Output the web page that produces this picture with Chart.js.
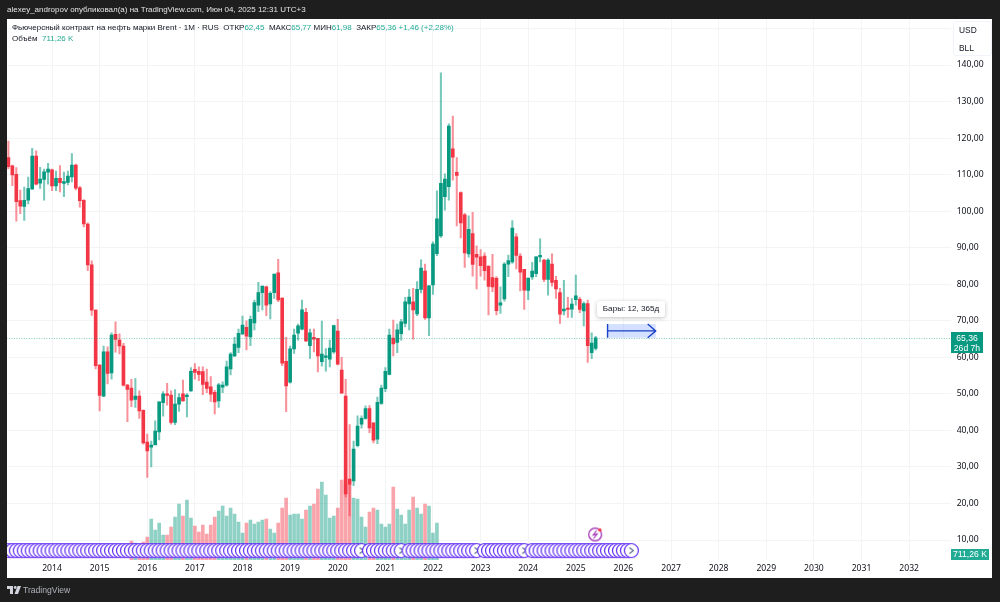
<!DOCTYPE html>
<html>
<head>
<meta charset="utf-8">
<script src="https://cdn.jsdelivr.net/npm/chart.js@4/dist/chart.umd.min.js"></script>
<style>
  html, body { margin: 0; padding: 0; background: #1e1e1e; overflow: hidden; }
  body { width: 1000px; height: 602px; position: relative; font-family: "Liberation Sans", sans-serif; }
  #panel { position: absolute; left: 7px; top: 19px; width: 985px; height: 559px; background: #fff; }
  #edge { position: absolute; left: 0; top: 0; width: 7px; height: 602px; background: #1e1e1e; }
  canvas { position: absolute; left: 0; top: 0; }
  .txt { position: absolute; white-space: nowrap; line-height: 12px; font-size: 8px; color: #131722; }
  #published { left: 7px; top: 4px; color: #e4e4e4; font-size: 8px; }
  #legend1 { left: 12px; top: 22px; }
  #legend2 { left: 12px; top: 33px; }
  .val { color: #22ab94; }
  #units { position: absolute; left: 953px; top: 21px; width: 37px; height: 33px; background: #fff; border: 1px solid #f0f3fa; border-radius: 3px; }
  #units span { position: absolute; left: 5px; font-size: 8.4px; line-height: 12px; color: #131722; }
  #tag { position: absolute; left: 951px; top: 332px; width: 32px; height: 21px; background: #089981; color: #fff; font-size: 8.6px; line-height: 10px; text-align: center; padding-top: 1px; box-sizing: border-box; }
  #volTag { position: absolute; left: 951px; top: 549px; width: 38px; height: 10.5px; background: #22ab94; color: #fff; font-size: 8.6px; line-height: 10.5px; text-align: center; }
  #bars { position: absolute; left: 597px; top: 301px; width: 68px; height: 16px; background: #fff; border-radius: 3px; box-shadow: 0 1px 4px rgba(0,0,0,.25); font-size: 8.1px; line-height: 16px; text-align: center; color: #131722; }
  #brand { position: absolute; left: 23px; top: 583px; font-size: 8.6px; line-height: 14px; color: #b2b5be; }
  #logo { position: absolute; left: 7px; top: 586px; }
</style>
</head>
<body>
<div id="panel"></div>
<canvas id="chart" width="1000" height="602"></canvas>
<div id="edge"></div>
<div class="txt" id="published">alexey_andropov опубликовал(а) на TradingView.com, Июн 04, 2025 12:31 UTC+3</div>
<div class="txt" id="legend1">Фьючерсный контракт на нефть марки Brent · 1М · RUS&nbsp; ОТКР<span class="val">62,45</span>&nbsp; МАКС<span class="val">65,77</span>&nbsp;МИН<span class="val">61,98</span>&nbsp; ЗАКР<span class="val">65,36</span> <span class="val">+1,46 (+2,28%)</span></div>
<div class="txt" id="legend2">Объём&nbsp; <span class="val">711,26 K</span></div>
<div id="units"><span style="top:2px">USD</span><span style="top:20px">BLL</span></div>
<div id="tag">65,36<br>26d 7h</div>
<div id="volTag">711,26 K</div>
<div id="bars">Бары: 12, 365д</div>
<svg id="logo" width="14" height="8" viewBox="0 0 14 8"><path d="M0 0h6v8H3V3H0z M7.5 8L10.5 0H14L11 8z" fill="#d1d4dc"/><circle cx="8.2" cy="1.5" r="1.4" fill="#d1d4dc"/></svg>
<div id="brand">TradingView</div>

<script>
// monthly candles, first one is Feb 2013, last one Jun 2025
const opens = [
  114.7,112.4,110.1,102.9,101.3,103.0,106.1,115.1,107.7,108.7,
  110.7,111.3,106.9,109.0,107.6,107.9,109.4,112.6,106.4,103.0,
  96.5,85.3,72.9,57.9,49.4,61.5,55.7,66.3,64.7,63.1,
  52.4,51.6,48.5,49.4,45.5,36.8,35.4,36.0,39.6,47.6,
  50.0,49.7,42.2,47.2,50.0,49.2,50.8,56.7,56.2,56.1,
  53.2,51.9,50.4,48.1,51.8,52.4,56.8,60.4,62.7,66.4,
  68.2,65.6,69.4,74.3,77.7,79.3,74.6,77.7,83.1,76.2,
  58.9,53.2,62.3,66.6,67.7,72.3,63.2,65.5,65.2,58.8,
  60.0,59.5,61.5,67.2,56.5,49.4,26.7,26.2,35.8,41.7,
  43.3,46.0,42.1,37.6,47.4,51.4,55.3,65.3,64.1,66.5,
  69.3,74.6,75.2,71.9,78.6,83.6,70.8,79.8,88.4,93.2,
  104.0,106.7,117.1,110.6,105.1,99.0,88.3,93.9,88.2,87.5,
  87.7,85.0,81.8,81.6,74.3,76.0,85.5,86.1,93.0,87.7,
  84.1,78.3,82.0,82.9,87.5,86.6,81.3,85.5,81.1,77.7,
  72.7,73.5,73.2,75.8,75.9,72.7,74.7,61.3,62.45
];
const closes = [
  112.2,109.9,102.6,101.4,103.0,106.2,115.1,107.4,108.8,110.8,
  111.5,106.9,109.0,107.8,108.1,109.6,112.6,106.3,102.9,96.5,
  85.3,72.9,57.7,49.6,61.5,55.6,66.1,64.9,63.1,52.4,
  51.2,48.3,49.4,45.3,36.6,34.4,36.0,39.8,47.8,50.0,
  49.6,42.2,47.2,49.0,48.1,49.7,56.2,55.9,55.3,52.6,
  51.5,49.9,47.8,52.5,52.4,57.4,60.9,63.6,66.6,68.8,
  65.8,70.4,75.0,77.7,79.5,74.3,77.5,82.8,75.7,58.4,
  52.2,62.3,66.1,68.6,73.0,64.5,66.7,65.0,60.4,60.9,
  60.4,62.5,68.7,58.1,50.2,22.6,25.2,34.9,41.2,43.3,
  46.0,40.7,37.3,47.7,51.6,56.2,66.1,63.7,67.5,69.7,
  75.2,76.5,73.0,78.6,84.4,70.8,79.6,91.0,97.9,107.6,
  108.8,123.3,114.8,109.8,96.8,88.6,95.0,85.4,87.4,85.1,
  83.7,79.4,79.3,72.8,74.9,85.5,86.5,95.4,87.9,83.3,
  78.4,81.7,83.6,87.5,87.9,81.3,86.6,80.5,78.7,71.8,
  73.2,73.1,74.6,76.8,73.1,74.7,63.2,63.9,65.36
];
const highs = [
  119.2,112.6,111.9,105.8,106.6,109.3,117.2,116.5,112.0,111.5,
  113.1,111.5,111.0,112.5,110.7,111.0,115.8,112.9,106.8,103.2,
  96.8,86.4,73.0,58.0,63.1,62.9,66.7,69.7,66.4,63.8,
  52.6,54.0,54.2,50.8,45.6,39.0,37.1,42.6,47.8,50.6,
  52.9,50.8,51.2,50.1,53.8,50.1,57.2,58.3,57.4,57.4,
  56.8,54.7,51.0,52.9,53.3,59.0,61.3,65.5,67.7,71.3,
  70.0,71.3,75.7,80.5,79.5,79.5,78.0,82.8,86.8,76.3,
  65.5,63.1,67.7,69.1,75.7,73.4,67.7,67.7,65.2,69.9,
  62.4,64.7,68.8,70.4,60.0,54.0,41.6,37.1,44.0,44.0,
  46.7,46.8,42.1,49.1,52.4,57.2,67.7,70.2,69.1,70.4,
  76.4,78.6,78.9,80.7,86.7,85.5,79.7,91.6,105.6,137.9,
  110.2,123.9,126.0,114.7,105.3,99.4,98.7,99.7,90.5,89.5,
  88.6,85.0,88.2,82.1,79.3,85.9,88.0,97.4,93.9,88.4,
  84.1,81.7,86.0,87.6,92.4,86.8,87.0,88.3,82.2,78.9,
  81.1,76.4,76.1,82.5,76.4,75.2,75.7,66.7,65.77
];
const lows = [
  111.6,107.0,97.3,99.3,97.5,102.0,105.9,107.2,106.2,103.0,
  107.4,105.6,105.6,105.3,104.0,107.2,108.0,105.8,101.1,95.7,
  83.7,71.5,56.8,45.3,49.2,52.7,54.0,61.4,60.9,52.1,
  42.4,46.5,46.3,43.3,36.2,27.1,30.0,37.4,37.4,43.9,
  46.9,41.7,41.6,45.2,48.0,43.7,50.7,54.0,53.6,49.8,
  50.3,47.9,44.5,46.3,50.3,52.1,55.2,60.2,61.3,66.2,
  62.0,63.2,67.5,72.5,73.0,71.4,70.5,76.1,75.2,57.7,
  45.1,52.9,61.1,64.7,67.5,64.3,59.7,61.5,56.0,57.6,
  56.2,57.4,61.1,57.9,50.2,21.8,16.6,24.9,35.5,40.6,
  43.1,39.4,36.6,36.4,47.1,50.6,55.2,60.4,61.3,64.7,
  68.3,67.5,65.0,71.4,77.6,70.4,65.9,77.2,87.8,92.8,
  100.3,103.0,108.5,96.0,92.7,84.6,87.4,82.2,78.7,82.2,
  81.1,71.6,78.0,71.6,72.0,75.4,82.1,85.7,84.2,78.2,
  73.1,75.8,81.3,82.1,86.1,80.7,77.0,79.5,76.1,69.3,
  71.6,70.9,70.9,74.3,72.2,68.6,58.6,59.6,61.98
];
// volume in thousands, only reported from Sep 2015 to Feb 2022
const noVolume = new Array(31).fill(null);
const volumes = noVolume.concat([
  190,170,150,180,230,410,300,370,250,250,
  330,430,560,440,600,420,340,280,350,260,
  350,430,490,540,440,520,460,380,270,370,
  400,360,380,400,410,310,270,370,520,620,
  450,460,460,410,500,540,560,710,780,650,
  420,440,520,800,760,750,620,610,430,330,
  480,520,500,360,330,360,730,510,450,360,
  500,630,520,460,560,540,270,370
]);

// month labels run on into the empty right part of the chart
const labels = [];
for (let y = 2013; y <= 2032; y++) {
  for (let m = 1; m <= 12; m++) {
    if (y === 2013 && m === 1) continue;
    if (y === 2032 && m === 12) continue;
    labels.push(y + '-' + String(m).padStart(2, '0'));
  }
}

const lastClose = 65.36;
const eventLevel = 7.1;
const eventGaps = [90, 100, 119, 131];
const eventArrows = [89, 99, 118, 130, 157];
const lastEvent = 157;
const newsIndex = 148;
const newsLevel = 11.65;
const rangeFrom = 151;
const rangeTo = 163;
const rangeHigh = 69.1;

const UP = '#089981';
const DOWN = '#f23645';
const isUp = i => closes[i] >= opens[i];

function circleIcon(arrow) {
  const c = document.createElement('canvas');
  c.width = 17; c.height = 17;
  const g = c.getContext('2d');
  g.beginPath(); g.arc(8.5, 8.5, 7, 0, Math.PI * 2);
  g.fillStyle = '#fff'; g.fill();
  g.strokeStyle = '#5f2bf5'; g.lineWidth = 1.2; g.stroke();
  if (arrow) {
    g.beginPath(); g.moveTo(6.5, 5.5); g.lineTo(10.5, 8.5); g.lineTo(6.5, 11.5);
    g.strokeStyle = '#5b6b8c'; g.lineWidth = 1.1; g.stroke();
  }
  return c;
}

function newsIcon() {
  const c = document.createElement('canvas');
  c.width = 21; c.height = 21;
  const g = c.getContext('2d');
  g.beginPath(); g.arc(10, 11, 6.4, 0, Math.PI * 2);
  g.strokeStyle = '#9c27b0'; g.lineWidth = 1.2; g.stroke();
  g.beginPath(); g.moveTo(11.5, 7); g.lineTo(8, 11.5); g.lineTo(12, 10.5); g.lineTo(8.5, 15);
  g.lineWidth = 1.1; g.stroke();
  g.beginPath(); g.arc(14.7, 6.5, 1.7, 0, Math.PI * 2);
  g.fillStyle = '#f23645'; g.fill();
  return c;
}

const plainCircle = circleIcon(false);
const arrowCircle = circleIcon(true);

const eventData = labels.map((l, i) => (i <= lastEvent && !eventGaps.includes(i)) ? eventLevel : null);
const newsData = labels.map((l, i) => i === newsIndex ? newsLevel : null);

// last price line and the "Бары" measure, drawn on the chart scales
const rangeTool = {
  id: 'rangeTool',
  afterDatasetsDraw(chart) {
    const g = chart.ctx, x = chart.scales.x, y = chart.scales.y, area = chart.chartArea;
    const x0 = x.getPixelForValue(rangeFrom), x1 = x.getPixelForValue(rangeTo) + 0.5;
    const y0 = y.getPixelForValue(rangeHigh), y1 = y.getPixelForValue(lastClose);
    const mid = (y0 + y1) / 2;
    g.save();
    g.strokeStyle = 'rgba(8,153,129,.5)';
    g.lineWidth = 1;
    g.setLineDash([1, 1.5]);
    g.beginPath();
    g.moveTo(area.left, Math.round(y1) + 0.5); g.lineTo(area.right, Math.round(y1) + 0.5);
    g.stroke();
    g.setLineDash([]);
    g.fillStyle = 'rgba(41,98,255,.2)';
    g.fillRect(x0, y0, x1 - x0, y1 - y0);
    g.strokeStyle = '#1a42c8';
    g.lineWidth = 1.4;
    g.beginPath();
    g.moveTo(x0, y0); g.lineTo(x0, y1);
    g.moveTo(x0, mid); g.lineTo(x1, mid);
    g.moveTo(x1 - 8, y0); g.lineTo(x1, mid); g.lineTo(x1 - 8, y1);
    g.stroke();
    g.restore();
  }
};

new Chart(document.getElementById('chart'), {
  data: {
    labels: labels,
    datasets: [
      {
        type: 'line', data: eventData, order: 1, yAxisID: 'y', showLine: false, spanGaps: false, clip: 0,
        pointStyle: ctx => eventArrows.includes(ctx.dataIndex) ? arrowCircle : plainCircle,
        pointRadius: 7
      },
      {
        type: 'line', data: newsData, order: 1, yAxisID: 'y', showLine: false, clip: 0,
        pointStyle: newsIcon(), pointRadius: 7
      },
      {
        type: 'bar', data: opens.map((o, i) => [o, closes[i]]), order: 2, yAxisID: 'y', grouped: false,
        barThickness: 3, minBarLength: 1,
        backgroundColor: ctx => isUp(ctx.dataIndex) ? UP : DOWN
      },
      {
        type: 'bar', data: lows.map((l, i) => [l, highs[i]]), order: 3, yAxisID: 'y', grouped: false,
        barThickness: 1.4,
        backgroundColor: ctx => isUp(ctx.dataIndex) ? 'rgba(8,153,129,.55)' : 'rgba(242,54,69,.55)'
      },
      {
        type: 'bar', data: volumes, order: 5, yAxisID: 'vol', grouped: false,
        barThickness: 3,
        backgroundColor: ctx => isUp(ctx.dataIndex) ? 'rgba(8,153,129,.45)' : 'rgba(242,54,69,.45)'
      }
    ]
  },
  plugins: [rangeTool],
  options: {
    responsive: false,
    animation: false,
    devicePixelRatio: 1,
    layout: { autoPadding: false, padding: { left: 6.4, top: 19, right: 7.4, bottom: 24 } },
    plugins: { legend: { display: false }, tooltip: { enabled: false } },
    scales: {
      x: {
        type: 'category',
        offset: true,
        afterFit(s) { s.height = 18; },
        border: { display: false },
        grid: {
          offset: false, drawTicks: false, lineWidth: 1,
          color: ctx => labels[ctx.index] && labels[ctx.index].endsWith('-01') ? '#f3f4f6' : 'rgba(0,0,0,0)'
        },
        ticks: {
          autoSkip: false, maxRotation: 0, padding: 3, color: '#0c0f18',
          font: { family: '"Noto Sans"', size: 8.6 },
          callback(v) { const l = labels[v]; return l.endsWith('-01') ? l.slice(0, 4) : ''; }
        }
      },
      y: {
        position: 'right',
        min: 4.53,
        max: 152.6,
        afterFit(s) { s.width = 41.8; },
        border: { display: false },
        grid: { color: '#f3f4f6', drawTicks: false, lineWidth: 1 },
        ticks: {
          stepSize: 10, includeBounds: false, padding: 5.9, color: '#0c0f18',
          font: { family: '"Noto Sans"', size: 8.6 },
          callback(v) { return v.toFixed(2).replace('.', ','); }
        }
      },
      vol: { display: false, min: 0, max: 5410 }
    }
  }
});
</script>
</body>
</html>
